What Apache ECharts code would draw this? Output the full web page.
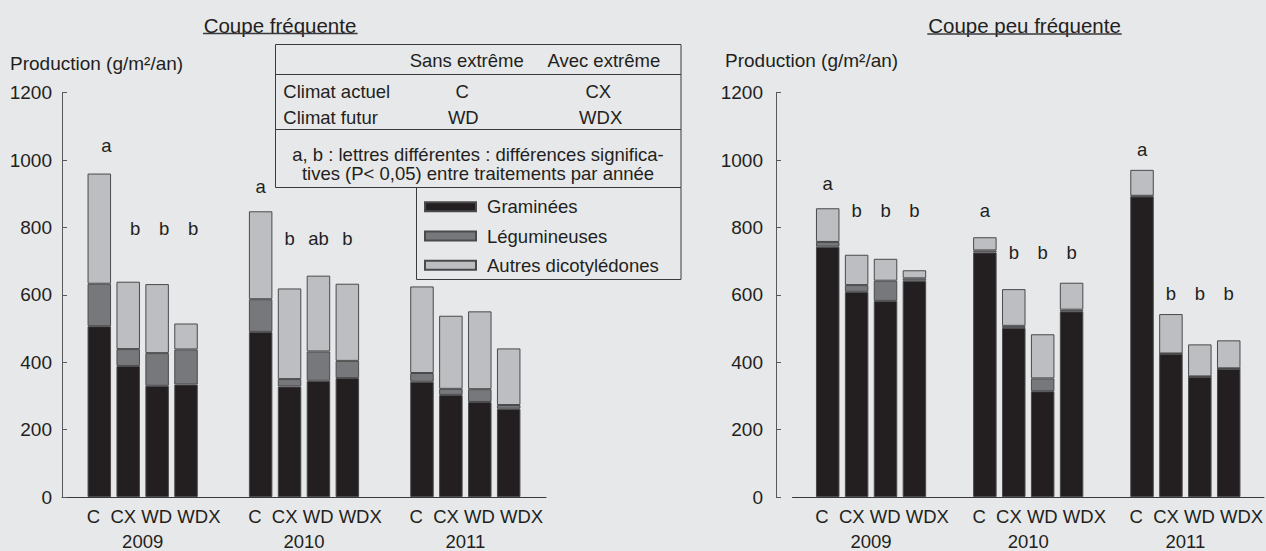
<!DOCTYPE html>
<html><head><meta charset="utf-8">
<script src="https://cdn.jsdelivr.net/npm/echarts@6/dist/echarts.min.js"></script>
<style>html,body{margin:0;padding:0;background:#e7e8ea;}#c{width:1266px;height:551px;}</style>
</head><body><div id="c"></div>
<script>
// ---------- data ----------
const years = ['2009', '2010', '2011'];
const treatments = ['C', 'CX', 'WD', 'WDX'];
const components = ['Graminées', 'Légumineuses', 'Autres dicotylédones'];
const treatmentLabel = 'C  CX WD WDX';
const yMin = 0, yMax = 1200, yStep = 200;

// Coupe fréquente : [year][treatment] (g/m²/an)
const freqGraminees    = [[507, 389, 330, 334], [490, 328, 345, 353], [342, 303, 282, 262]];
const freqLegumineuses = [[126, 50, 97, 104], [97, 22, 87, 51], [26, 18, 38, 11]];
const freqAutres       = [[327, 200, 205, 77], [261, 269, 225, 229], [257, 217, 231, 168]];
const freqLetters      = [['a', 'b', 'b', 'b'], ['a', 'b', 'ab', 'b'], ['', '', '', '']];
const freqLetterLevel  = [[1042, 796, 796, 796], [922, 767, 767, 767], [0, 0, 0, 0]];

// Coupe peu fréquente
const rareGraminees    = [[743, 609, 582, 642], [726, 502, 314, 551], [892, 425, 357, 381]];
const rareLegumineuses = [[14, 20, 60, 7], [6, 6, 38, 5], [2, 1, 1, 1]];
const rareAutres       = [[100, 90, 65, 24], [39, 109, 131, 80], [77, 117, 95, 83]];
const rareLetters      = [['a', 'b', 'b', 'b'], ['a', 'b', 'b', 'b'], ['a', 'b', 'b', 'b']];
const rareLetterLevel  = [[930, 849, 849, 849], [849, 726, 726, 726], [1031, 605, 605, 605]];

// ---------- style ----------
const FONT = '"Liberation Sans", Arial, Helvetica, sans-serif';
const TXT = '#231f20';
const FS = 18.5;
const colors = ['#231f20', '#77787b', '#bdbec1'];
const edge = '#4a4a4c';

function buildSeries(gi, gram, leg, aut, letters, levels, letterShift) {
  const out = [];
  const comps = [gram, leg, aut];
  treatments.forEach((t, ti) => {
    const stack = 'g' + gi + t;
    comps.forEach((arr, ci) => {
      out.push({
        type: 'bar', name: components[ci], stack: stack,
        xAxisIndex: gi, yAxisIndex: gi,
        barWidth: 23.5, barGap: '23%',
        itemStyle: { color: colors[ci], borderColor: edge, borderWidth: 1 },
        emphasis: { disabled: true },
        data: years.map((y, yi) => arr[yi][ti])
      });
    });
    out.push({
      type: 'bar', name: 'lettres', stack: stack,
      xAxisIndex: gi, yAxisIndex: gi,
      barWidth: 23.5, barGap: '23%',
      itemStyle: { color: 'rgba(0,0,0,0)', borderWidth: 0 },
      emphasis: { disabled: true },
      label: {
        show: true, position: 'top', distance: 0, verticalAlign: 'middle',
        fontFamily: FONT, fontSize: FS, color: TXT,
        formatter: p => letters[p.dataIndex][ti]
      },
      data: years.map((y, yi) => {
        const tot = gram[yi][ti] + leg[yi][ti] + aut[yi][ti];
        const v = letters[yi][ti] ? levels[yi][ti] - tot : 0;
        return letterShift && letterShift[yi] ? { value: v, label: { offset: [letterShift[yi], 0] } } : v;
      })
    });
  });
  return out;
}

function xAxisCfg(gi) {
  return {
    type: 'category', gridIndex: gi, data: years,
    axisLine: { lineStyle: { color: '#3a3a3c', width: 1 } },
    axisTick: { show: false },
    axisLabel: {
      interval: 0, margin: 7, color: TXT,
      formatter: v => '{t|' + treatmentLabel + '}\n{y|' + v + '}',
      rich: {
        t: { fontFamily: FONT, fontSize: FS, lineHeight: 25, color: TXT, padding: [0, 0, 0, 22] },
        y: { fontFamily: FONT, fontSize: FS, lineHeight: 25, color: TXT }
      }
    }
  };
}
function yAxisCfg(gi, offset, margin) {
  return {
    type: 'value', gridIndex: gi, min: yMin, max: yMax, interval: yStep, offset: offset,
    splitLine: { show: false },
    axisLine: { show: true, lineStyle: { color: '#58595b', width: 1 } },
    axisTick: { show: true, inside: true, length: 5, lineStyle: { color: '#58595b' } },
    axisLabel: { margin: margin, fontFamily: FONT, fontSize: 19, color: TXT, formatter: v => String(v) }
  };
}

function txt(text, x, y, align, size) {
  return { type: 'text', silent: true, style: {
    text: text, x: x, y: y, textAlign: align || 'center', textVerticalAlign: 'middle',
    align: align || 'center', verticalAlign: 'middle',
    fontFamily: FONT, fontSize: size || FS, fill: TXT } };
}
function line(x1, y1, x2, y2, w) {
  return { type: 'line', silent: true, shape: { x1: x1, y1: y1, x2: x2, y2: y2 },
    style: { stroke: '#3a3a3c', lineWidth: w || 1 } };
}

const chart = echarts.init(document.getElementById('c'), null, { renderer: 'svg' });
chart.setOption({
  backgroundColor: '#e7e8ea',
  animation: false,
  textStyle: { fontFamily: FONT },
  grid: [
    { left: 62, width: 484, top: 92.7, height: 405.8 },
    { left: 792.5, width: 472.5, top: 92.7, height: 405.8 }
  ],
  xAxis: [xAxisCfg(0), xAxisCfg(1)],
  yAxis: [yAxisCfg(0, 0, 10), yAxisCfg(1, 16.5, 13)],
  legend: {
    data: components, orient: 'vertical', left: 424, top: 196.7, padding: 0,
    itemWidth: 51, itemHeight: 9, itemGap: 9.3, icon: 'rect',
    selectedMode: false,
    textStyle: { fontFamily: FONT, fontSize: FS, color: TXT, lineHeight: 20, padding: [0, 0, 0, 6] }
  },
  graphic: [
    txt('Coupe fréquente', 280, 25, 'center', 20.5),
    line(203, 33.5, 357.6, 33.5, 1.3),
    txt('Coupe peu fréquente', 1024.5, 25, 'center', 20.5),
    line(927.3, 34, 1121.7, 34, 1.3),
    txt('Production (g/m²/an)', 10, 63, 'left', 19),
    txt('Production (g/m²/an)', 725, 60, 'left', 19),
    { type: 'rect', silent: true, shape: { x: 275.5, y: 44.5, width: 405.5, height: 143 },
      style: { fill: 'none', stroke: '#3a3a3c', lineWidth: 1 } },
    line(275.5, 74.5, 681, 74.5),
    line(275.5, 129.5, 681, 129.5),
    { type: 'rect', silent: true, shape: { x: 416.5, y: 187.5, width: 264.5, height: 92 },
      style: { fill: 'none', stroke: '#3a3a3c', lineWidth: 1 } },
    txt('Sans extrême', 466.7, 60.7),
    txt('Avec extrême', 603.8, 60.7),
    txt('Climat actuel', 283.3, 91.7, 'left'),
    txt('C', 462.3, 91.7),
    txt('CX', 598.3, 91.7),
    txt('Climat futur', 283.3, 117.7, 'left'),
    txt('WD', 463.3, 117.7),
    txt('WDX', 600.7, 117.7),
    txt('a, b : lettres différentes : différences significa-', 478, 154),
    txt('tives (P< 0,05) entre traitements par année', 478, 173.3)
  ],
  series: [].concat(
    buildSeries(0, freqGraminees, freqLegumineuses, freqAutres, freqLetters, freqLetterLevel, [7, 0, 0]),
    buildSeries(1, rareGraminees, rareLegumineuses, rareAutres, rareLetters, rareLetterLevel, null)
  )
});
</script></body></html>
